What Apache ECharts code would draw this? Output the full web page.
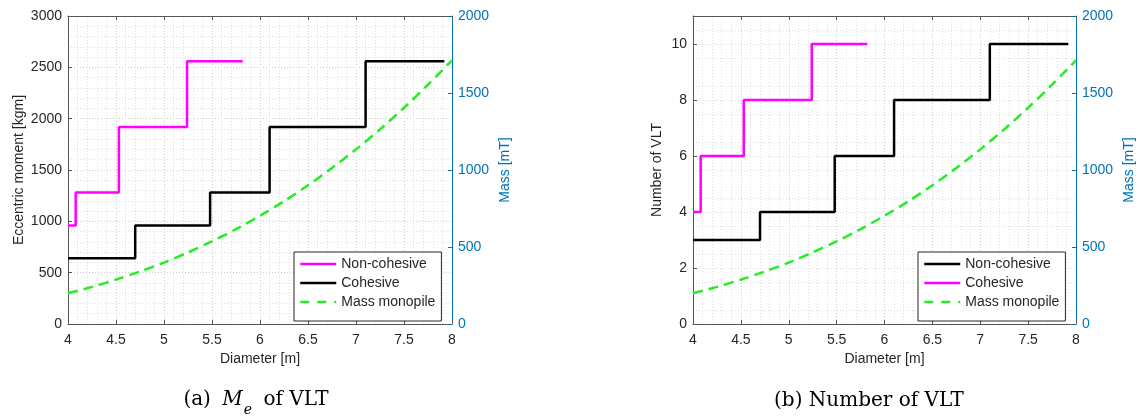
<!DOCTYPE html>
<html><head><meta charset="utf-8">
<script src="https://cdn.jsdelivr.net/npm/echarts@6/dist/echarts.min.js"></script>
<style>html,body{margin:0;padding:0;background:#fff}#c{width:1140px;height:416px}</style>
</head><body><div id="c"></div>
<script>
// ---------- data ----------
// (a) Eccentric moment [kgm] vs diameter [m]
const meNonCohesiveD = [4.00, 4.08, 4.53, 5.24, 5.82];
const meNonCohesive  = [960, 1280, 1920, 2560, 2560];
const meCohesiveD    = [4.00, 4.70, 5.48, 6.10, 7.10, 7.92];
const meCohesive     = [640, 960, 1280, 1920, 2560, 2560];
// (b) Number of VLT vs diameter [m]
const nNonCohesiveD  = [4.00, 4.70, 5.48, 6.10, 7.10, 7.92];
const nNonCohesive   = [3, 4, 6, 8, 10, 10];
const nCohesiveD     = [4.00, 4.08, 4.53, 5.24, 5.82];
const nCohesive      = [4, 6, 8, 10, 10];
// Mass monopile [mT] (right axis, both panels)
const massD = [4.00, 4.25, 4.50, 4.75, 5.00, 5.25, 5.50, 5.75, 6.00, 6.25, 6.50, 6.75, 7.00, 7.25, 7.50, 7.75, 8.00];
const mass  = [200, 241, 288, 341, 399, 465, 537, 616, 703, 797, 901, 1013, 1134, 1264, 1404, 1554, 1712];
// tick labels
const nTicks = [0, 2, 4, 6, 8, 10];
const seriesNames = ['Non-cohesive', 'Cohesive', 'Mass monopile'];
const captionA = ['(a) ', 'M', 'e', ' of VLT'];
const captionB = '(b) Number of VLT';

// ---------- styling ----------
const FONT = 'Liberation Sans, Arial, Helvetica, sans-serif';
const SERIF = 'DejaVu Serif, Liberation Serif, serif';
const TXT = '#262626', AX = '#555555', BLUE = '#0072BD';
const MAG = '#FF00FF', BLK = '#000000', GRN = '#22EE22';
const zip = (xs, ys) => xs.map((x, i) => [x, ys[i]]);
const gridLine = {show: true, lineStyle: {color: '#cdcdcd', type: [1, 2], width: 1}};
const minorLine = {show: true, lineStyle: {color: '#dedede', type: [1, 2], width: 1}};
const fmt = v => String(v);

function xAxes(gi) {
  return [
    {type: 'value', gridIndex: gi, min: 4, max: 8, interval: 0.5, position: 'bottom',
     name: 'Diameter [m]', nameLocation: 'middle', nameGap: 26,
     nameTextStyle: {color: TXT, fontSize: 14, fontFamily: FONT},
     axisLine: {show: true, onZero: false, lineStyle: {color: AX}},
     axisTick: {show: true, inside: true, length: 4, lineStyle: {color: AX}},
     axisLabel: {color: TXT, fontSize: 14, fontFamily: FONT, margin: 9, formatter: fmt},
     splitLine: gridLine, minorTick: {show: false, splitNumber: 5}, minorSplitLine: minorLine},
    {type: 'value', gridIndex: gi, min: 4, max: 8, interval: 0.5, position: 'top',
     axisLine: {show: true, onZero: false, lineStyle: {color: AX}},
     axisTick: {show: true, inside: true, length: 4, lineStyle: {color: AX}},
     axisLabel: {show: false}, splitLine: {show: false}}
  ];
}
function massAxis(gi) {
  return {type: 'value', gridIndex: gi, min: 0, max: 2000, interval: 500, position: 'right',
    name: 'Mass [mT]', nameLocation: 'middle', nameGap: 46,
    nameTextStyle: {color: BLUE, fontSize: 14, fontFamily: FONT},
    axisLine: {show: true, onZero: false, lineStyle: {color: BLUE}},
    axisTick: {show: true, inside: true, length: 4, lineStyle: {color: BLUE}},
    axisLabel: {color: BLUE, fontSize: 14, fontFamily: FONT, margin: 6, formatter: fmt},
    splitLine: {show: false}};
}
const hiddenSym = {opacity: 0, color: 'rgba(0,0,0,0)', borderWidth: 0};
function legendData(c1, c2) {
  return [
    {name: seriesNames[0], itemStyle: hiddenSym, lineStyle: {color: c1, type: 'solid', width: 2.5}},
    {name: seriesNames[1], itemStyle: hiddenSym, lineStyle: {color: c2, type: 'solid', width: 2.5}},
    {name: seriesNames[2], itemStyle: hiddenSym, lineStyle: {color: GRN, type: [9, 8], width: 2.5}}
  ];
}
function legend(left, data) {
  return {left: left, top: 252, orient: 'vertical', itemWidth: 36, itemHeight: 14, itemGap: 5,
    padding: [5, 6, 12, 5], backgroundColor: '#ffffff', borderColor: '#262626', borderWidth: 1,
    borderRadius: 0, selectedMode: false, textStyle: {color: TXT, fontSize: 14, fontFamily: FONT},
    data: data};
}
function stepSeries(name, xi, yi, d, color) {
  return {type: 'line', name: name, xAxisIndex: xi, yAxisIndex: yi, step: 'end', symbol: 'none',
    data: d, lineStyle: {color: color, width: 2.5}, itemStyle: {color: color}, z: 3, animation: false};
}
function massSeries(xi, yi) {
  return {type: 'line', name: seriesNames[2], xAxisIndex: xi, yAxisIndex: yi, symbol: 'none', smooth: 0.3,
    data: zip(massD, mass), lineStyle: {color: GRN, width: 2.5, type: [10, 6]}, itemStyle: {color: GRN},
    z: 2, animation: false};
}

const option = {
  backgroundColor: '#ffffff',
  animation: false,
  grid: [
    {left: 68, top: 16, width: 384, height: 308, show: false},
    {left: 693, top: 16, width: 383, height: 308, show: false}
  ],
  xAxis: [...xAxes(0), ...xAxes(1)],
  yAxis: [
    {type: 'value', gridIndex: 0, min: 0, max: 3000, interval: 500, position: 'left',
     name: 'Eccentric moment [kgm]', nameLocation: 'middle', nameGap: 42,
     nameTextStyle: {color: TXT, fontSize: 14, fontFamily: FONT},
     axisLine: {show: true, onZero: false, lineStyle: {color: AX}},
     axisTick: {show: true, inside: true, length: 4, lineStyle: {color: AX}},
     axisLabel: {color: TXT, fontSize: 14, fontFamily: FONT, margin: 6, formatter: fmt},
     splitLine: gridLine, minorTick: {show: false, splitNumber: 5}, minorSplitLine: minorLine},
    massAxis(0),
    {type: 'value', gridIndex: 1, min: 0, max: 11, interval: 1, position: 'left',
     name: 'Number of VLT', nameLocation: 'middle', nameGap: 29,
     nameTextStyle: {color: TXT, fontSize: 14, fontFamily: FONT},
     axisLine: {show: true, onZero: false, lineStyle: {color: AX}},
     axisTick: {show: true, inside: true, length: 4, lineStyle: {color: AX}, customValues: nTicks},
     axisLabel: {color: TXT, fontSize: 14, fontFamily: FONT, margin: 6, formatter: fmt, customValues: nTicks},
     splitLine: {show: true, lineStyle: {color: '#dedede', type: [1, 2], width: 1}},
     minorTick: {show: false, splitNumber: 2}, minorSplitLine: minorLine},
    massAxis(1)
  ],
  legend: [
    legend(294, legendData(MAG, BLK)),
    legend(918, legendData(BLK, MAG))
  ],
  series: [
    stepSeries(seriesNames[0], 0, 0, zip(meNonCohesiveD, meNonCohesive), MAG),
    stepSeries(seriesNames[1], 0, 0, zip(meCohesiveD, meCohesive), BLK),
    massSeries(0, 1),
    stepSeries(seriesNames[0], 2, 2, zip(nNonCohesiveD, nNonCohesive), BLK),
    stepSeries(seriesNames[1], 2, 2, zip(nCohesiveD, nCohesive), MAG),
    massSeries(2, 3)
  ],
  graphic: [
    {type: 'text', x: 256, y: 403, style: {
      text: '{n|' + captionA[0] + '}{it|' + captionA[1] + '}{sub|' + captionA[2] + '}{n|' + captionA[3] + '}',
      align: 'center', verticalAlign: 'middle',
      rich: {
        n: {fontFamily: SERIF, fontSize: 20, fill: '#000', color: '#000', lineHeight: 26, verticalAlign: 'top', padding: [0, 2, 0, 2]},
        it: {fontFamily: SERIF, fontSize: 20, fontStyle: 'italic', fill: '#000', color: '#000', lineHeight: 26, verticalAlign: 'top', padding: [0, 1, 0, 3]},
        sub: {fontFamily: SERIF, fontSize: 14, fontStyle: 'italic', fill: '#000', color: '#000', lineHeight: 12, padding: [13, 3, 0, 0], verticalAlign: 'top'}
      }}},
    {type: 'text', x: 869, y: 401, style: {
      text: captionB, align: 'center', verticalAlign: 'middle',
      font: '20px ' + SERIF, fontFamily: SERIF, fontSize: 20, fill: '#000'}}
  ]
};
const chart = echarts.init(document.getElementById('c'), null, {renderer: 'canvas'});
chart.setOption(option);
</script>
</body></html>
